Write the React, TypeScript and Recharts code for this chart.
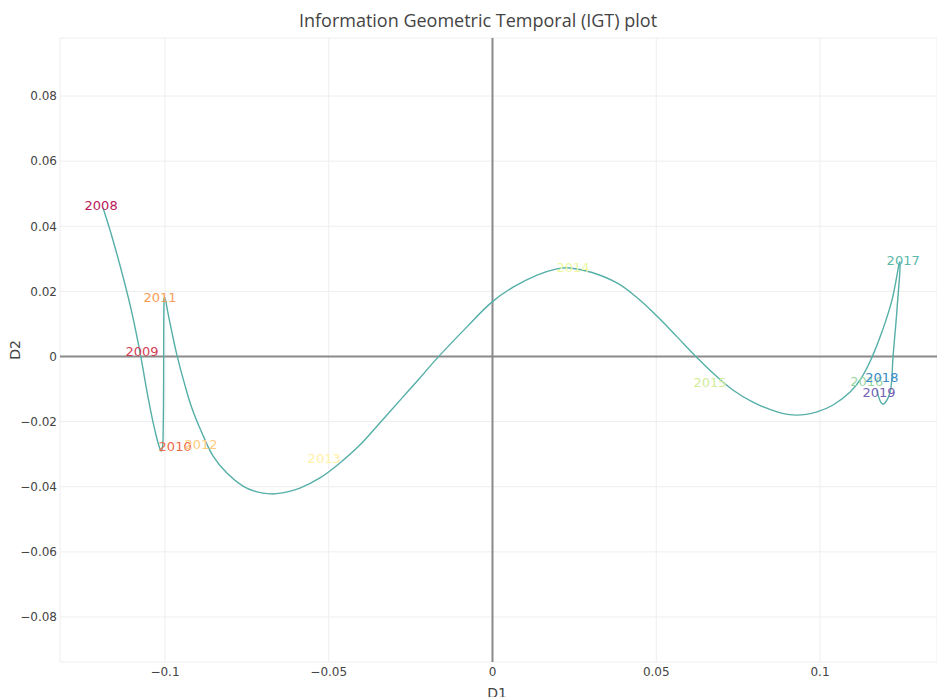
import React from 'react';
import {
  ScatterChart,
  Scatter,
  XAxis,
  YAxis,
  CartesianGrid,
  ReferenceLine,
} from 'recharts';

// path of the smoothed trajectory (D1, D2)
const curveD1 = [
  -0.1189, -0.1159, -0.1128, -0.1101, -0.1076, -0.1052, -0.1031, -0.1012, -0.1006, -0.1003,
  -0.1, -0.0991, -0.0979, -0.0963, -0.0942, -0.0918, -0.0887, -0.0853, -0.0811, -0.0762,
  -0.0722, -0.0679, -0.0643, -0.0588, -0.0527, -0.0466, -0.0405, -0.0344, -0.0282, -0.0227,
  -0.0166, -0.0078, -0.0002, 0.0063, 0.0136, 0.0197, 0.0237, 0.0304, 0.038, 0.0441,
  0.0502, 0.0563, 0.0624, 0.0673, 0.0734, 0.0795, 0.0869, 0.093, 0.0991, 0.104,
  0.1092, 0.1128, 0.1159, 0.1189, 0.122, 0.1244, 0.1235, 0.1223, 0.1217, 0.1208,
  0.1192, 0.118, 0.1174,
];
const curveD2 = [
  0.0456, 0.0358, 0.0244, 0.0134, 0.0011, -0.0124, -0.0226, -0.029, -0.0256, 0.0174,
  0.018, 0.0134, 0.0075, 0.0002, -0.0078, -0.0158, -0.0235, -0.0306, -0.0358, -0.0398,
  -0.0415, -0.0422, -0.0419, -0.0404, -0.0373, -0.0327, -0.0272, -0.0204, -0.0134, -0.0072,
  -0.0002, 0.0091, 0.0167, 0.0213, 0.025, 0.0269, 0.0272, 0.0258, 0.0226, 0.0181,
  0.0124, 0.0061, -0.0003, -0.0051, -0.0103, -0.014, -0.017, -0.018, -0.017, -0.0149,
  -0.0109, -0.0063, -0.0002, 0.0075, 0.0174, 0.029, 0.0143, -0.0002, -0.0094, -0.0127,
  -0.0146, -0.0127, -0.0103,
];

// year labels
const years = ['2008', '2009', '2010', '2011', '2012', '2013', '2014', '2015', '2016', '2017', '2018', '2019'];
const yearD1 = [-0.1195, -0.107, -0.0969, -0.1015, -0.089, -0.0514, 0.0246, 0.0664, 0.1143, 0.1254, 0.1189, 0.118];
const yearD2 = [0.0465, 0.0014, -0.0275, 0.018, -0.0269, -0.0312, 0.0272, -0.0081, -0.0078, 0.0296, -0.0066, -0.0112];
const yearColors = [
  '#b8175c', '#d43e55', '#f0694a', '#fa9c59', '#fecd80', '#fff0a6',
  '#eef7a0', '#d1ec9c', '#98d6a4', '#5db8a9', '#3b8bc6', '#7362b4',
];

const xTicks = [-0.1, -0.05, 0, 0.05, 0.1];
const yTicks = [-0.08, -0.06, -0.04, -0.02, 0, 0.02, 0.04, 0.06, 0.08];

const curve = curveD1.map((x, i) => ({ x, y: curveD2[i] }));
const labels = years.map((year, i) => ({ x: yearD1[i], y: yearD2[i], year, color: yearColors[i] }));

const TITLE_FONT = '"Open Sans", verdana, arial, sans-serif';
const FONT = '"DejaVu Sans", verdana, arial, sans-serif';
const fmt = (v: number) => (v < 0 ? '\u2212' + String(-v) : String(v));

// smooth spline through the points, tangents weighted by segment length
const smoothCurve = (context: any) => {
  let pts: number[][] = [];
  return {
    areaStart() {},
    areaEnd() {},
    lineStart() {
      pts = [];
    },
    point(x: number, y: number) {
      pts.push([+x, +y]);
    },
    lineEnd() {
      if (!pts.length) return;
      const n = pts.length;
      const k = 0.4;
      const before: number[][] = [];
      const after: number[][] = [];
      for (let i = 0; i < n; i++) {
        const p = pts[i];
        if (i === 0 || i === n - 1) {
          before.push(p);
          after.push(p);
          continue;
        }
        const a = pts[i - 1];
        const b = pts[i + 1];
        const d1 = Math.hypot(p[0] - a[0], p[1] - a[1]);
        const d2 = Math.hypot(b[0] - p[0], b[1] - p[1]);
        const dx = b[0] - a[0];
        const dy = b[1] - a[1];
        const s = d1 + d2 || 1;
        before.push([p[0] - (dx * k * d1) / s, p[1] - (dy * k * d1) / s]);
        after.push([p[0] + (dx * k * d2) / s, p[1] + (dy * k * d2) / s]);
      }
      context.moveTo(pts[0][0], pts[0][1]);
      for (let i = 0; i < n - 1; i++) {
        context.bezierCurveTo(
          after[i][0], after[i][1],
          before[i + 1][0], before[i + 1][1],
          pts[i + 1][0], pts[i + 1][1],
        );
      }
    },
  };
};

const YearLabel = (props: any) => {
  const { cx, cy, payload } = props;
  return (
    <text
      x={cx}
      y={cy}
      textAnchor="middle"
      dominantBaseline="central"
      fontSize={13}
      fontFamily={FONT}
      fill={payload.color}
    >
      {payload.year}
    </text>
  );
};

export default function App() {
  return (
    <div style={{ position: 'absolute', left: 0, top: 0, width: 937, height: 697, background: '#fff', fontFamily: FONT, overflow: 'hidden' }}>
      <div style={{ position: 'absolute', left: 0, width: 956, top: 9, textAlign: 'center', fontSize: 18, lineHeight: '22px', color: '#444', fontFamily: TITLE_FONT }}>
        Information Geometric Temporal (IGT) plot
      </div>
      <div
        style={{
          position: 'absolute',
          left: 15,
          top: 350,
          fontSize: 14,
          color: '#444',
          transform: 'translate(-50%, -50%) rotate(-90deg)',
        }}
      >
        D2
      </div>
      <div style={{ position: 'absolute', left: 497, top: 693, fontSize: 14, color: '#444', transform: 'translate(-50%, -50%)' }}>
        D1
      </div>
      <ScatterChart width={937} height={697} margin={{ top: 38, right: 0, bottom: 0, left: 0 }}>
        <CartesianGrid stroke="#eee" strokeWidth={1} />
        <XAxis
          type="number"
          dataKey="x"
          domain={[-0.13206, 0.13573]}
          allowDataOverflow
          ticks={xTicks}
          tickFormatter={fmt}
          height={35}
          tickSize={0}
          tickMargin={5}
          axisLine={false}
          tickLine={false}
          tick={{ fill: '#444', fontSize: 12, fontFamily: FONT }}
        />
        <YAxis
          type="number"
          dataKey="y"
          domain={[-0.09383, 0.09782]}
          allowDataOverflow
          ticks={yTicks}
          tickFormatter={fmt}
          width={60}
          tickSize={0}
          tickMargin={3}
          axisLine={false}
          tickLine={false}
          tick={{ fill: '#444', fontSize: 12, fontFamily: FONT }}
        />
        <ReferenceLine x={0} stroke="#8a8a8a" strokeWidth={2} />
        <ReferenceLine y={0} stroke="#8a8a8a" strokeWidth={2} />
        <Scatter
          data={curve}
          line={{ stroke: '#55afa8', strokeWidth: 1.4 }}
          lineJointType={smoothCurve as any}
          shape={() => <g />}
          isAnimationActive={false}
        />
        <Scatter data={labels} shape={YearLabel} isAnimationActive={false} />
      </ScatterChart>
    </div>
  );
}
